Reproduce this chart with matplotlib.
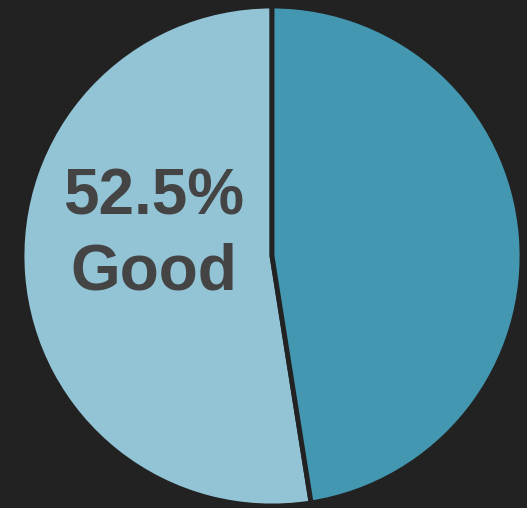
import matplotlib.pyplot as plt

# slice shares and labels
labels = ['Good', 'Other']
shares = [52.5, 47.5]
colors = ['#92c4d6', '#4397b0']

bg = '#222222'
W, H = 527, 508

fig = plt.figure(figsize=(W / 100, H / 100), dpi=100, facecolor=bg)
ax = fig.add_axes([0, 0, 1, 1])
ax.set_facecolor(bg)

cx, cy, r = 272, H - 256, 250
ax.pie(shares, colors=colors, startangle=90, counterclock=True,
       center=(cx, cy), radius=r, frame=True,
       wedgeprops=dict(edgecolor=bg, linewidth=3.5))
ax.set_xlim(0, W)
ax.set_ylim(0, H)
ax.set_aspect('equal')
ax.axis('off')

ax.text(154, H - 235, f'{shares[0]}%\n{labels[0]}', ha='center', va='center',
        fontsize=46, fontweight='bold', color='#444444',
        family='Liberation Sans', linespacing=1.33)

fig.savefig('out.png', dpi=100, facecolor=bg)
